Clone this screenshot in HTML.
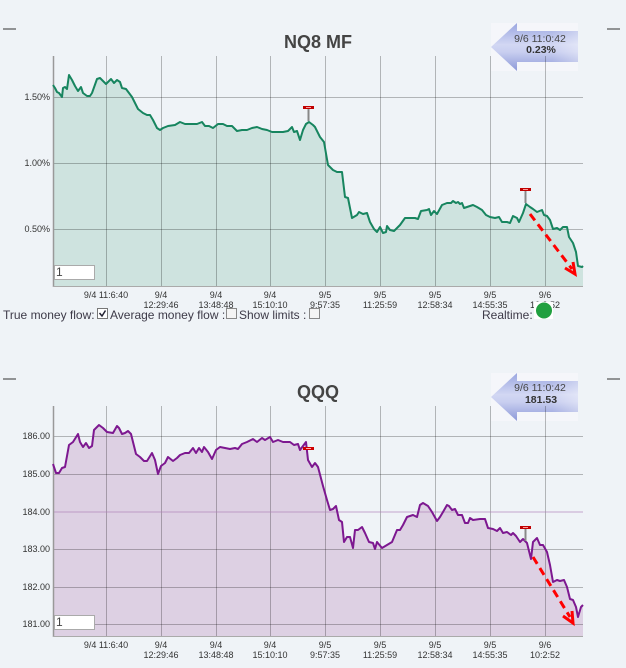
<!DOCTYPE html>
<html><head><meta charset="utf-8"><style>
html,body{margin:0;padding:0;background:#eff3f7;}
svg{display:block;font-family:"Liberation Sans",Arial,sans-serif;}
</style></head><body>
<svg width="626" height="668" viewBox="0 0 626 668" xmlns="http://www.w3.org/2000/svg">
<defs>
<linearGradient id="ag" x1="0" y1="0" x2="0" y2="1">
<stop offset="0" stop-color="#9aa6e0"/><stop offset="0.45" stop-color="#d2d7f3"/><stop offset="0.6" stop-color="#c9cff0"/><stop offset="1" stop-color="#8c98d8"/>
</linearGradient>
<linearGradient id="ah" x1="0" y1="0" x2="1" y2="0">
<stop offset="0" stop-color="#ffffff" stop-opacity="0"/><stop offset="0.7" stop-color="#ffffff" stop-opacity="0"/><stop offset="1" stop-color="#ffffff" stop-opacity="0.35"/>
</linearGradient>
</defs>
<rect width="626" height="668" fill="#eff3f7"/>

<!-- ===== Chart 1 ===== -->
<line x1="3" y1="29" x2="16" y2="29" stroke="#333" stroke-width="1"/>
<line x1="607" y1="29" x2="620" y2="29" stroke="#333" stroke-width="1"/>
<text x="318" y="48" font-size="18" font-weight="bold" fill="#444" text-anchor="middle">NQ8 MF</text>

<!-- arrow box -->
<rect x="491" y="23" width="87" height="48" fill="#f5f6fa"/>
<polygon points="491,47 517,23 517,31 578,31 578,62 517,62 517,71" fill="url(#ag)"/>
<polygon points="491,47 517,23 517,31 578,31 578,62 517,62 517,71" fill="url(#ah)"/>

<polygon fill="#cee3df" points="53,85 55,88 57,92 59,93 62,97 63,88 65,87 67,89 69,75 72,80 75,86 78,91 81,87 83,93 87,96 90,96 92,93 97,79 100,78 106,84 111,79 114,83 117,80 120,82 122,88 126,89 132,97 138,109 143,113 147,115 150,115 153,120 157,128 160,130 163,128 168,126 175,125 180,122 185,124 190,124 197,124 202,122 205,126 209,126 213,128 218,124 223,124 227,126 232,126 237,131 242,130 247,130 252,128 257,127 262,129 267,130 272,132 277,132 283,132 288,131 292,127 294,132 297,131 300,140 303,130 306,124 309,122 313,125 315,127 320,137 324,142 328,165 333,170 337,172 342,172 345,197 348,198 352,218 357,215 359,212 363,214 367,213 370,222 374,229 377,232 380,227 383,233 386,232 387,226 390,230 394,231 400,225 405,218 415,218 418,219 421,211 427,210 429,209 431,215 434,211 437,214 442,205 447,203 451,203 453,201 456,203 458,202 460,204 462,203 464,208 467,207 470,206 473,205 477,207 482,210 486,215 490,217 495,218 499,217 502,222 507,222 510,223 513,216 517,218 519,222 523,213 526,204 530,207 533,209 537,212 542,210 544,215 547,216 550,220 553,229 557,228 560,230 563,227 567,227 569,237 573,243 576,252 578,266 582,267 583,266 583,286 53,286"/>

<g stroke="#000" stroke-opacity="0.26" stroke-width="1">
<line x1="53" y1="97.5" x2="583" y2="97.5"/>
<line x1="53" y1="163.5" x2="583" y2="163.5"/>
<line x1="53" y1="229.5" x2="583" y2="229.5"/>
<line x1="106.5" y1="56" x2="106.5" y2="286"/>
<line x1="161.5" y1="56" x2="161.5" y2="286"/>
<line x1="216.5" y1="56" x2="216.5" y2="286"/>
<line x1="270.5" y1="56" x2="270.5" y2="286"/>
<line x1="325.5" y1="56" x2="325.5" y2="286"/>
<line x1="380.5" y1="56" x2="380.5" y2="286"/>
<line x1="435.5" y1="56" x2="435.5" y2="286"/>
<line x1="490.5" y1="56" x2="490.5" y2="286"/>
<line x1="545.5" y1="56" x2="545.5" y2="286"/>
</g>
<line x1="53.5" y1="56" x2="53.5" y2="287" stroke="#999" stroke-width="1.5"/>
<line x1="53" y1="286.5" x2="583" y2="286.5" stroke="#aaa" stroke-width="1"/>

<text x="540" y="42" font-size="10.5" fill="#444" text-anchor="middle">9/6 11:0:42</text>
<text x="541" y="53" font-size="10.5" font-weight="bold" fill="#333" text-anchor="middle">0.23%</text>

<polyline fill="none" stroke="#17855f" stroke-width="2" stroke-linejoin="round" points="53,85 55,88 57,92 59,93 62,97 63,88 65,87 67,89 69,75 72,80 75,86 78,91 81,87 83,93 87,96 90,96 92,93 97,79 100,78 106,84 111,79 114,83 117,80 120,82 122,88 126,89 132,97 138,109 143,113 147,115 150,115 153,120 157,128 160,130 163,128 168,126 175,125 180,122 185,124 190,124 197,124 202,122 205,126 209,126 213,128 218,124 223,124 227,126 232,126 237,131 242,130 247,130 252,128 257,127 262,129 267,130 272,132 277,132 283,132 288,131 292,127 294,132 297,131 300,140 303,130 306,124 309,122 313,125 315,127 320,137 324,142 328,165 333,170 337,172 342,172 345,197 348,198 352,218 357,215 359,212 363,214 367,213 370,222 374,229 377,232 380,227 383,233 386,232 387,226 390,230 394,231 400,225 405,218 415,218 418,219 421,211 427,210 429,209 431,215 434,211 437,214 442,205 447,203 451,203 453,201 456,203 458,202 460,204 462,203 464,208 467,207 470,206 473,205 477,207 482,210 486,215 490,217 495,218 499,217 502,222 507,222 510,223 513,216 517,218 519,222 523,213 526,204 530,207 533,209 537,212 542,210 544,215 547,216 550,220 553,229 557,228 560,230 563,227 567,227 569,237 573,243 576,252 578,266 582,267 583,266"/>

<!-- markers chart1 -->
<line x1="308.5" y1="109" x2="308.5" y2="121" stroke="#888" stroke-width="2"/>
<rect x="303" y="106" width="11" height="3" fill="#c00000"/>
<line x1="306" y1="107.5" x2="311" y2="107.5" stroke="#ff9a9a" stroke-width="1"/>
<line x1="525.5" y1="191" x2="525.5" y2="203" stroke="#888" stroke-width="2"/>
<rect x="520" y="188" width="11" height="3" fill="#c00000"/>
<line x1="523" y1="189.5" x2="528" y2="189.5" stroke="#ff9a9a" stroke-width="1"/>

<!-- red dashed arrow chart1 -->
<line x1="530" y1="214" x2="572" y2="269" stroke="#ff0000" stroke-width="3" stroke-dasharray="8,5"/>
<polyline points="565,268 575,274 573,262" fill="none" stroke="#ff0000" stroke-width="3"/>

<g font-size="9" fill="#333" text-anchor="end">
<text x="50" y="100">1.50%</text>
<text x="50" y="166">1.00%</text>
<text x="50" y="232">0.50%</text>
</g>
<rect x="54.5" y="265.5" width="40" height="14" fill="#fff" stroke="#aaa"/>
<text x="56" y="276" font-size="12" fill="#444">1</text>

<g font-size="9" fill="#333" text-anchor="middle">
<text x="106" y="298">9/4 11:6:40</text>
<text x="161" y="298">9/4</text><text x="161" y="308">12:29:46</text>
<text x="216" y="298">9/4</text><text x="216" y="308">13:48:48</text>
<text x="270" y="298">9/4</text><text x="270" y="308">15:10:10</text>
<text x="325" y="298">9/5</text><text x="325" y="308">9:57:35</text>
<text x="380" y="298">9/5</text><text x="380" y="308">11:25:59</text>
<text x="435" y="298">9/5</text><text x="435" y="308">12:58:34</text>
<text x="490" y="298">9/5</text><text x="490" y="308">14:55:35</text>
<text x="545" y="298">9/6</text><text x="545" y="308">10:2:52</text>
</g>

<!-- controls -->
<g font-size="12" fill="#3d3a48">
<text x="3" y="319">True money flow:</text>
<text x="110" y="319">Average money flow :</text>
<text x="239" y="319">Show limits :</text>
<text x="482" y="319">Realtime:</text>
</g>
<rect x="97.5" y="308.5" width="10" height="10" fill="#fff" stroke="#777"/>
<polyline points="99.5,313 102,316 105.5,310.5" fill="none" stroke="#223" stroke-width="1.5"/>
<rect x="226.5" y="308.5" width="10" height="10" fill="#f4f4f4" stroke="#888"/>
<rect x="309.5" y="308.5" width="10" height="10" fill="#f4f4f4" stroke="#888"/>
<rect x="534" y="302" width="19" height="17" fill="#fff"/>
<circle cx="544" cy="310.5" r="8" fill="#21a040"/>

<!-- ===== Chart 2 ===== -->
<line x1="3" y1="379" x2="16" y2="379" stroke="#333" stroke-width="1"/>
<line x1="607" y1="379" x2="620" y2="379" stroke="#333" stroke-width="1"/>
<text x="318" y="398" font-size="18" font-weight="bold" fill="#444" text-anchor="middle">QQQ</text>

<rect x="491" y="373" width="87" height="48" fill="#f5f6fa"/>
<polygon points="491,397 517,373 517,381 578,381 578,412 517,412 517,421" fill="url(#ag)"/>
<polygon points="491,397 517,373 517,381 578,381 578,412 517,412 517,421" fill="url(#ah)"/>

<polygon fill="#ddd0e3" points="53,464 56,473 59,473 62,468 65,467 69,445 73,442 78,434 80,442 83,447 86,443 89,448 92,446 94,430 99,425 103,428 107,432 113,433 117,426 119,428 122,434 125,433 128,431 131,434 136,454 140,457 144,461 147,461 152,453 155,460 158,474 161,466 165,463 168,457 173,461 177,458 180,455 185,453 189,453 193,448 196,453 199,448 202,452 204,447 208,452 212,459 216,450 220,447 225,448 230,449 235,448 238,449 242,444 247,442 253,439 257,442 262,438 265,440 270,437 273,442 278,440 283,442 290,442 294,445 298,444 300,450 303,446 306,442 308,460 312,467 315,463 318,467 323,486 327,500 330,510 333,509 336,506 339,520 342,522 344,542 347,537 350,537 353,548 355,530 358,530 362,527 365,533 369,542 373,543 375,549 377,542 382,548 387,545 392,542 397,530 400,530 403,525 407,517 410,516 413,515 417,517 420,505 423,503 428,506 432,512 437,521 440,517 443,512 447,505 449,506 452,510 455,509 458,515 462,515 465,523 468,523 470,518 473,520 480,519 485,519 488,528 493,529 497,531 500,528 503,533 507,532 511,535 513,533 516,536 520,542 523,539 527,543 531,559 533,542 537,538 540,545 543,545 547,552 550,565 553,582 557,580 560,581 564,580 567,587 570,599 573,600 576,607 578,617 581,607 583,605 583,636 53,636"/>

<g stroke="#000" stroke-opacity="0.26" stroke-width="1">
<line x1="53" y1="436.5" x2="583" y2="436.5"/>
<line x1="53" y1="474.5" x2="583" y2="474.5"/>
<line x1="53" y1="549.5" x2="583" y2="549.5"/>
<line x1="53" y1="587.5" x2="583" y2="587.5"/>
<line x1="53" y1="624.5" x2="583" y2="624.5"/>
<line x1="106.5" y1="406" x2="106.5" y2="636"/>
<line x1="161.5" y1="406" x2="161.5" y2="636"/>
<line x1="216.5" y1="406" x2="216.5" y2="636"/>
<line x1="270.5" y1="406" x2="270.5" y2="636"/>
<line x1="325.5" y1="406" x2="325.5" y2="636"/>
<line x1="380.5" y1="406" x2="380.5" y2="636"/>
<line x1="435.5" y1="406" x2="435.5" y2="636"/>
<line x1="490.5" y1="406" x2="490.5" y2="636"/>
<line x1="545.5" y1="406" x2="545.5" y2="636"/>
</g>
<line x1="53" y1="512" x2="583" y2="512" stroke="#b080b8" stroke-opacity="0.45" stroke-width="1.5"/>
<line x1="53.5" y1="406" x2="53.5" y2="637" stroke="#999" stroke-width="1.5"/>
<line x1="53" y1="636.5" x2="583" y2="636.5" stroke="#aaa" stroke-width="1"/>

<text x="540" y="391" font-size="10.5" fill="#444" text-anchor="middle">9/6 11:0:42</text>
<text x="541" y="403" font-size="10.5" font-weight="bold" fill="#333" text-anchor="middle">181.53</text>

<polyline fill="none" stroke="#7d1890" stroke-width="2" stroke-linejoin="round" points="53,464 56,473 59,473 62,468 65,467 69,445 73,442 78,434 80,442 83,447 86,443 89,448 92,446 94,430 99,425 103,428 107,432 113,433 117,426 119,428 122,434 125,433 128,431 131,434 136,454 140,457 144,461 147,461 152,453 155,460 158,474 161,466 165,463 168,457 173,461 177,458 180,455 185,453 189,453 193,448 196,453 199,448 202,452 204,447 208,452 212,459 216,450 220,447 225,448 230,449 235,448 238,449 242,444 247,442 253,439 257,442 262,438 265,440 270,437 273,442 278,440 283,442 290,442 294,445 298,444 300,450 303,446 306,442 308,460 312,467 315,463 318,467 323,486 327,500 330,510 333,509 336,506 339,520 342,522 344,542 347,537 350,537 353,548 355,530 358,530 362,527 365,533 369,542 373,543 375,549 377,542 382,548 387,545 392,542 397,530 400,530 403,525 407,517 410,516 413,515 417,517 420,505 423,503 428,506 432,512 437,521 440,517 443,512 447,505 449,506 452,510 455,509 458,515 462,515 465,523 468,523 470,518 473,520 480,519 485,519 488,528 493,529 497,531 500,528 503,533 507,532 511,535 513,533 516,536 520,542 523,539 527,543 531,559 533,542 537,538 540,545 543,545 547,552 550,565 553,582 557,580 560,581 564,580 567,587 570,599 573,600 576,607 578,617 581,607 583,605"/>

<!-- markers chart2 -->
<rect x="303" y="447" width="11" height="3" fill="#d00000"/>
<line x1="306" y1="448.5" x2="311" y2="448.5" stroke="#ffaaaa" stroke-width="1"/>
<line x1="525.5" y1="529" x2="525.5" y2="541" stroke="#888" stroke-width="2"/>
<rect x="520" y="526" width="11" height="3" fill="#c00000"/>
<line x1="523" y1="527.5" x2="528" y2="527.5" stroke="#ff9a9a" stroke-width="1"/>

<line x1="533" y1="557" x2="570" y2="617" stroke="#ff0000" stroke-width="3" stroke-dasharray="8,5"/>
<polyline points="563,616 573,623 572,611" fill="none" stroke="#ff0000" stroke-width="3"/>

<g font-size="9" fill="#333" text-anchor="end">
<text x="50" y="439">186.00</text>
<text x="50" y="477">185.00</text>
<text x="50" y="515">184.00</text>
<text x="50" y="552">183.00</text>
<text x="50" y="590">182.00</text>
<text x="50" y="627">181.00</text>
</g>
<rect x="54.5" y="615.5" width="40" height="14" fill="#fff" stroke="#aaa"/>
<text x="56" y="626" font-size="12" fill="#444">1</text>

<g font-size="9" fill="#333" text-anchor="middle">
<text x="106" y="648">9/4 11:6:40</text>
<text x="161" y="648">9/4</text><text x="161" y="658">12:29:46</text>
<text x="216" y="648">9/4</text><text x="216" y="658">13:48:48</text>
<text x="270" y="648">9/4</text><text x="270" y="658">15:10:10</text>
<text x="325" y="648">9/5</text><text x="325" y="658">9:57:35</text>
<text x="380" y="648">9/5</text><text x="380" y="658">11:25:59</text>
<text x="435" y="648">9/5</text><text x="435" y="658">12:58:34</text>
<text x="490" y="648">9/5</text><text x="490" y="658">14:55:35</text>
<text x="545" y="648">9/6</text><text x="545" y="658">10:2:52</text>
</g>
</svg>
</body></html>
